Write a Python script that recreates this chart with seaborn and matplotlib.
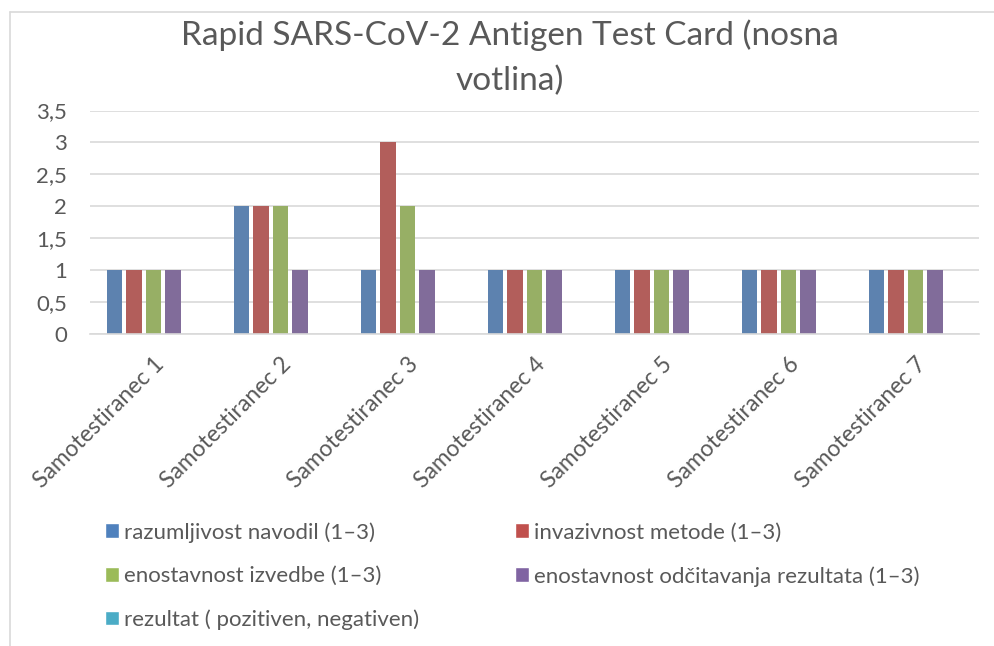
import numpy as np
import pandas as pd
import matplotlib.pyplot as plt
import seaborn as sns
from matplotlib.lines import Line2D
from matplotlib.patches import Patch


osebe = ["Samotestiranec 1", "Samotestiranec 2", "Samotestiranec 3", "Samotestiranec 4",
         "Samotestiranec 5", "Samotestiranec 6", "Samotestiranec 7"]

razumljivost = [1, 2, 1, 1, 1, 1, 1]          # razumljivost navodil (1–3)
invazivnost = [1, 2, 3, 1, 1, 1, 1]           # invazivnost metode (1–3)
izvedba = [1, 2, 2, 1, 1, 1, 1]               # enostavnost izvedbe (1–3)
odcitavanje = [1, 1, 1, 1, 1, 1, 1]           # enostavnost odčitavanja rezultata (1–3)
rezultat = [np.nan, np.nan, np.nan, np.nan, np.nan, np.nan, np.nan]   # prazno v tabeli

serije = ["razumljivost navodil (1–3)", "invazivnost metode (1–3)", "enostavnost izvedbe (1–3)",
          "enostavnost odčitavanja rezultata (1–3)", "rezultat ( pozitiven, negativen)"]
barve = ["#4F81BD", "#C0504D", "#9BBB59", "#8064A2", "#4BACC6"]

y_ticks = [0, 0.5, 1, 1.5, 2, 2.5, 3, 3.5]
y_labels = ["0", "0,5", "1", "1,5", "2", "2,5", "3", "3,5"]

data = pd.DataFrame({"oseba": osebe,
                     serije[0]: razumljivost,
                     serije[1]: invazivnost,
                     serije[2]: izvedba,
                     serije[3]: odcitavanje,
                     serije[4]: rezultat})
data = data.melt(id_vars="oseba", var_name="kazalnik", value_name="vrednost")

sns.set_style("white")
plt.rcParams['font.family'] = ['Lato', 'DejaVu Sans']
siva = "#595959"

fig = plt.figure(figsize=(9.95, 6.46), dpi=100)
ax = fig.add_axes([90 / 995, 1 - 334 / 646, 889 / 995, 223.5 / 646])

sns.barplot(data=data, x="oseba", y="vrednost", hue="kazalnik", hue_order=serije,
            palette=barve, width=0.768, gap=0.2, errorbar=None, legend=False,
            linewidth=0, ax=ax)

ax.set_ylim(0, 3.5)
ax.set_yticks(y_ticks)
ax.set_yticklabels(y_labels)
ax.yaxis.grid(True, color="#D9D9D9", linewidth=1.2)
ax.set_axisbelow(True)
for s in ["top", "right", "left"]:
    ax.spines[s].set_visible(False)
ax.spines["bottom"].set_color("#D9D9D9")
ax.spines["bottom"].set_linewidth(1.2)
ax.set_xlabel("")
ax.set_ylabel("")
ax.tick_params(axis="y", length=0, pad=16.5, labelsize=16, labelcolor=siva)
ax.tick_params(axis="x", length=0, pad=14, labelsize=16.5, labelcolor=siva)
plt.setp(ax.get_yticklabels(), ha="right")
plt.setp(ax.get_xticklabels(), rotation=45, ha="right", rotation_mode="anchor")

fig.text(0.512, 0.945, "Rapid SARS-CoV-2 Antigen Test Card (nosna", ha="center", va="center",
         fontsize=24, color=siva)
fig.text(0.512, 0.875, "votlina)", ha="center", va="center", fontsize=24, color=siva)

# legenda se v Excelu polni po vrsticah, matplotlib pa po stolpcih
vrstni_red = [0, 2, 4, 1, 3]
rocke = [Patch(facecolor=barve[i], label=serije[i]) for i in vrstni_red]
fig.legend(handles=rocke, loc="upper left", bbox_to_anchor=(85 / 995, 1 - 502 / 646),
           ncol=2, frameon=False, fontsize=16, labelcolor=siva,
           handlelength=0.65, handleheight=0.65, handletextpad=0.22,
           labelspacing=1.05, columnspacing=4.3)

# okvir grafikona
fig.add_artist(Line2D([10 / 995, 10 / 995], [0, 1 - 12 / 646], color="#D9D9D9", linewidth=1.2))
fig.add_artist(Line2D([10 / 995, 1], [1 - 12 / 646, 1 - 12 / 646], color="#D9D9D9", linewidth=1.2))

fig.savefig("out.png", dpi=100)
